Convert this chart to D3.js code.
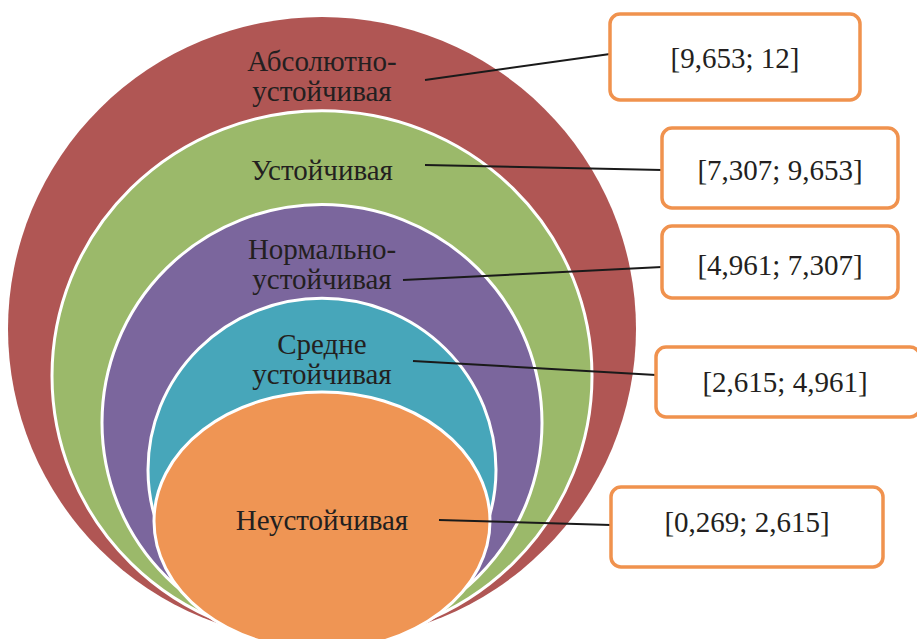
<!DOCTYPE html>
<html>
<head>
<meta charset="utf-8">
<script src="https://cdn.jsdelivr.net/npm/d3@7"></script>
<style>
  body { margin: 0; background: #fff; }
  svg text { font-family: "Liberation Serif", "DejaVu Serif", "Noto Serif", "Times New Roman", serif; fill: #231f20; }
</style>
</head>
<body>
<div class="chart"></div>
<script>
// levels from outer to inner
var levels = ["Абсолютно-устойчивая", "Устойчивая", "Нормально-устойчивая", "Средне устойчивая", "Неустойчивая"];
var labelLines = [["Абсолютно-", "устойчивая"], ["Устойчивая"], ["Нормально-", "устойчивая"], ["Средне", "устойчивая"], ["Неустойчивая"]];
var lowerBound = ["9,653", "7,307", "4,961", "2,615", "0,269"];
var upperBound = ["12", "9,653", "7,307", "4,961", "2,615"];
var colors = ["#b05654", "#9bb96a", "#7b669d", "#47a6ba", "#ef9554"];

var svgWidth = 917;
var svgHeight = 639;

var svg = d3.select(".chart")
    .append("svg")
    .attr("width", svgWidth)
    .attr("height", svgHeight);

// layout
var cx = 322;
var bottoms = [641, 641, 641, 641, 650];
var topScale = d3.scaleLinear().domain([0, 4]).range([17, 392]);
var rxList = [314, 270, 220, 174, 168];

var boxes = [
    {x: 610, y: 14, w: 250, h: 86},
    {x: 662, y: 128, w: 236, h: 80},
    {x: 662, y: 226, w: 236, h: 72},
    {x: 656, y: 347, w: 264, h: 70},
    {x: 611, y: 487, w: 272, h: 80}
];
var labelY = [71, 180, 259, 354, 530];
var lineStart = [[425, 80], [425, 165], [403, 280], [413, 361], [439, 520]];
var lineEndY = [54, 170, 267, 375, 525];

var ellipseGroup = svg.append("g");

ellipseGroup.selectAll("ellipse")
    .data(levels)
    .enter()
    .append("ellipse")
    .attr("cx", cx)
    .attr("cy", (d, i) => (topScale(i) + bottoms[i]) / 2)
    .attr("rx", (d, i) => rxList[i])
    .attr("ry", (d, i) => (bottoms[i] - topScale(i)) / 2)
    .attr("fill", (d, i) => colors[i])
    .attr("stroke", "#fff")
    .attr("stroke-width", (d, i) => i == 0 ? 0 : 3);

// labels inside rings
labelLines.forEach(function(lines, i) {
    var t = svg.append("text")
        .attr("text-anchor", "middle")
        .attr("font-size", 29);
    lines.forEach(function(line, j) {
        t.append("tspan")
            .attr("x", cx)
            .attr("y", labelY[i] + j * 30)
            .text(line);
    });
});

// connector lines
svg.selectAll("line.conn")
    .data(levels)
    .enter()
    .append("line")
    .attr("class", "conn")
    .attr("x1", (d, i) => lineStart[i][0])
    .attr("y1", (d, i) => lineStart[i][1])
    .attr("x2", (d, i) => boxes[i].x)
    .attr("y2", (d, i) => lineEndY[i])
    .attr("stroke", "#1a1a1a")
    .attr("stroke-width", 2);

// interval boxes
svg.selectAll("rect.box")
    .data(levels)
    .enter()
    .append("rect")
    .attr("class", "box")
    .attr("x", (d, i) => boxes[i].x)
    .attr("y", (d, i) => boxes[i].y)
    .attr("width", (d, i) => boxes[i].w)
    .attr("height", (d, i) => boxes[i].h)
    .attr("rx", 10)
    .attr("fill", "#fff")
    .attr("stroke", "#f0924e")
    .attr("stroke-width", 3.5);

svg.selectAll("text.interval")
    .data(levels)
    .enter()
    .append("text")
    .attr("class", "interval")
    .attr("text-anchor", "middle")
    .attr("font-size", 29)
    .attr("x", (d, i) => [735, 780, 780, 785, 747][i])
    .attr("y", (d, i) => [68, 180, 275, 392, 532][i])
    .text((d, i) => "[" + lowerBound[i] + "; " + upperBound[i] + "]");
</script>
</body>
</html>
